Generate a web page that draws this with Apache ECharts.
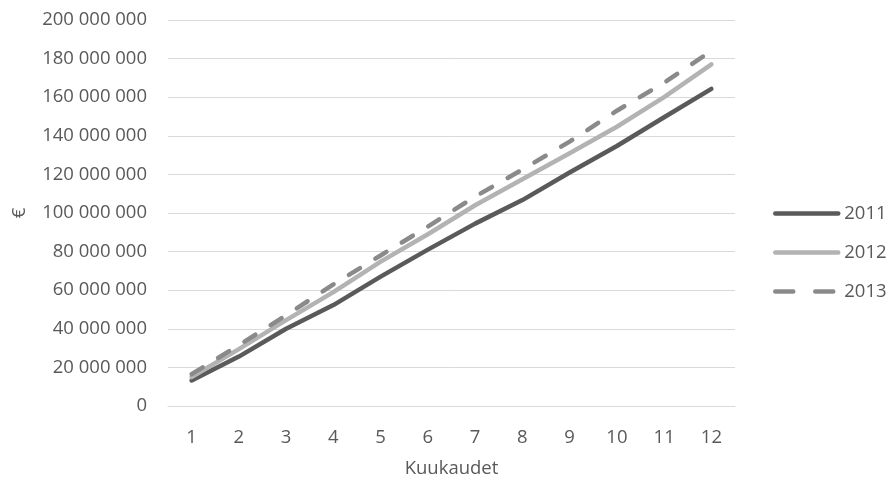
<!DOCTYPE html>
<html>
<head>
<meta charset="utf-8">
<script src="https://cdn.jsdelivr.net/npm/echarts@6/dist/echarts.min.js"></script>
<style>
  html, body { margin: 0; padding: 0; background: #fff; }
  #chart { width: 886px; height: 480px; }
</style>
</head>
<body>
<div id="chart"></div>
<script>
// Kumulatiivinen kertymä kuukausittain (euroa)
const months = ['1', '2', '3', '4', '5', '6', '7', '8', '9', '10', '11', '12'];
const years = ['2011', '2012', '2013'];
const values2011 = [13200000, 25600000, 40000000, 52300000, 67000000, 81000000, 94500000, 106700000, 121000000, 134700000, 149600000, 164300000];
const values2012 = [15000000, 29500000, 44500000, 59000000, 74800000, 89000000, 104000000, 117500000, 131000000, 144700000, 160000000, 177000000];
const values2013 = [16500000, 31500000, 47000000, 63000000, 78000000, 93000000, 108500000, 122500000, 137000000, 153000000, 167500000, 184000000];
const yTicks = { min: 0, max: 200000000, interval: 20000000 };

const FONT = '"Open Sans", "Liberation Sans", sans-serif';
const TEXT = '#595959';
const SIZE = 18.5;

function spaced(v) {
  return String(v).replace(/\B(?=(\d{3})+(?!\d))/g, ' ');
}

const styles = [
  { color: '#5a5a5a', type: 'solid', legendType: 'solid' },
  { color: '#b3b3b3', type: 'solid', legendType: 'solid' },
  { color: '#8a8a8a', type: [13, 18], legendType: [18, 22] }
];
const seriesData = [values2011, values2012, values2013];

const chart = echarts.init(document.getElementById('chart'), null, { renderer: 'canvas' });
chart.setOption({
  animation: false,
  backgroundColor: '#ffffff',
  grid: { left: 168, right: 151, top: 20, bottom: 74, containLabel: false, outerBoundsMode: 'none' },
  legend: {
    orient: 'vertical',
    left: 773,
    top: 204,
    padding: 0,
    itemWidth: 63,
    itemHeight: 16,
    itemGap: 20,
    data: years.map((y, i) => ({ name: y, lineStyle: { type: styles[i].legendType } })),
    textStyle: { color: TEXT, fontFamily: FONT, fontSize: SIZE, padding: [0, 0, 0, 1] },
    itemStyle: { opacity: 0 },
    lineStyle: { width: 'inherit', cap: 'round' }
  },
  xAxis: {
    type: 'category',
    data: months,
    boundaryGap: true,
    name: 'Kuukaudet',
    nameLocation: 'middle',
    nameGap: 53,
    nameTextStyle: { color: TEXT, fontFamily: FONT, fontSize: SIZE },
    axisLine: { show: true, lineStyle: { color: '#d9d9d9', width: 1 } },
    axisTick: { show: false },
    axisLabel: { color: TEXT, fontFamily: FONT, fontSize: SIZE, margin: 22 }
  },
  yAxis: {
    type: 'value',
    min: yTicks.min,
    max: yTicks.max,
    interval: yTicks.interval,
    name: '€',
    nameLocation: 'middle',
    nameGap: 139,
    nameRotate: 90,
    nameTextStyle: { color: TEXT, fontFamily: FONT, fontSize: SIZE },
    axisLine: { show: false },
    axisTick: { show: false },
    splitLine: { lineStyle: { color: '#d9d9d9', width: 1 } },
    axisLabel: { color: TEXT, fontFamily: FONT, fontSize: SIZE, margin: 21, formatter: spaced }
  },
  series: years.map((y, i) => ({
    name: y,
    type: 'line',
    data: seriesData[i],
    symbol: 'none',
    smooth: false,
    color: styles[i].color,
    lineStyle: { color: styles[i].color, width: 4.5, type: styles[i].type, cap: 'round', join: 'round' }
  }))
});
</script>
</body>
</html>
